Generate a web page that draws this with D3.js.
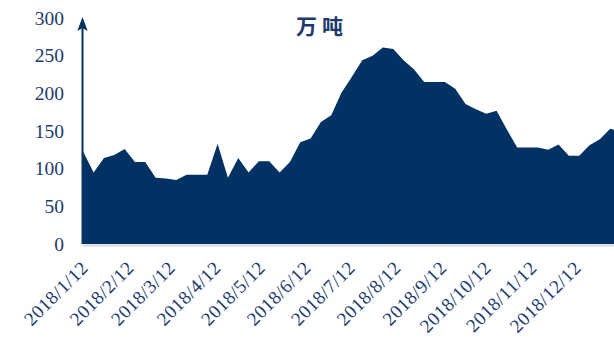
<!DOCTYPE html>
<html>
<head>
<meta charset="utf-8">
<script src="https://cdn.jsdelivr.net/npm/d3@7"></script>
<style>
  html, body { margin: 0; padding: 0; background: #fff; }
  svg { display: block; }
  .serif { font-family: "Liberation Serif", "Times New Roman", Times, serif; }
</style>
</head>
<body>
<svg id="chart" width="614" height="340"></svg>
<script>
// Weekly volume, 万吨
const dates = [
  "2018/01/12","2018/01/19","2018/01/26","2018/02/02","2018/02/09","2018/02/16","2018/02/23",
  "2018/03/02","2018/03/09","2018/03/16","2018/03/23","2018/03/30","2018/04/06","2018/04/13",
  "2018/04/20","2018/04/27","2018/05/04","2018/05/11","2018/05/18","2018/05/25","2018/06/01",
  "2018/06/08","2018/06/15","2018/06/22","2018/06/29","2018/07/06","2018/07/13","2018/07/20",
  "2018/07/27","2018/08/03","2018/08/10","2018/08/17","2018/08/24","2018/08/31","2018/09/07",
  "2018/09/14","2018/09/21","2018/09/28","2018/10/05","2018/10/12","2018/10/19","2018/10/26",
  "2018/11/02","2018/11/09","2018/11/16","2018/11/23","2018/11/30","2018/12/07","2018/12/14",
  "2018/12/21","2018/12/28","2019/01/04","2019/01/11"
];
const values = [
  122, 95, 114, 118, 126, 109, 109,
  88, 87, 85, 92, 92, 92, 133,
  88, 114, 95, 110, 110, 95, 109,
  135, 140, 162, 171, 201, 222, 244,
  250, 261, 259, 244, 232, 215, 215,
  215, 206, 186, 179, 173, 177, 152,
  128, 128, 128, 125, 132, 117, 117,
  131, 139, 153, 149
];
const tickDates = [
  "2018/01/12","2018/02/12","2018/03/12","2018/04/12","2018/05/12","2018/06/12",
  "2018/07/12","2018/08/12","2018/09/12","2018/10/12","2018/11/12","2018/12/12"
];
const tickLabels = [
  "2018/1/12","2018/2/12","2018/3/12","2018/4/12","2018/5/12","2018/6/12",
  "2018/7/12","2018/8/12","2018/9/12","2018/10/12","2018/11/12","2018/12/12"
];
const yTicks = [0, 50, 100, 150, 200, 250, 300];
const unitLabel = "万吨";

const parse = d3.utcParse("%Y/%m/%d");
const data = dates.map((d, i) => ({ date: parse(d), value: values[i] }));

const svg = d3.select("#chart");
const navy = "#023263";
const textColor = "#1b3a6d";

const plotLeft = 82.5, plotRight = 614, plotTop = 18, plotBottom = 244;

const x = d3.scaleUtc()
  .domain([parse("2018/01/12"), parse("2019/01/07")])
  .range([83.3, 614.6]);
const y = d3.scaleLinear().domain([0, 300]).range([plotBottom, plotTop]);

svg.append("defs").append("clipPath").attr("id", "plot")
  .append("rect").attr("x", plotLeft).attr("y", 0)
  .attr("width", plotRight - plotLeft).attr("height", plotBottom + 1);

// light baseline under the area
svg.append("line")
  .attr("x1", plotLeft).attr("x2", plotRight)
  .attr("y1", plotBottom + 1.5).attr("y2", plotBottom + 1.5)
  .attr("stroke", "#d9d9d9").attr("stroke-width", 2);

// area
const area = d3.area()
  .x(d => x(d.date))
  .y0(y(0))
  .y1(d => y(d.value));

svg.append("g").attr("clip-path", "url(#plot)")
  .append("path")
  .datum([{ date: x.invert(plotLeft), value: data[0].value }, ...data])
  .attr("fill", navy)
  .attr("d", area);

// y axis with arrow head
svg.append("line")
  .attr("x1", plotLeft).attr("x2", plotLeft)
  .attr("y1", plotBottom).attr("y2", 26)
  .attr("stroke", navy).attr("stroke-width", 2);
svg.append("path")
  .attr("d", `M${plotLeft},17 L${plotLeft + 5.2},31 L${plotLeft},28 L${plotLeft - 5.2},31 Z`)
  .attr("fill", navy);

// y tick labels
svg.append("g")
  .selectAll("text")
  .data(yTicks)
  .join("text")
  .attr("class", "serif")
  .attr("x", 64)
  .attr("y", d => y(d))
  .attr("dy", "0.35em")
  .attr("text-anchor", "end")
  .attr("font-size", 19.5)
  .attr("fill", textColor)
  .text(d => d);

// x tick labels (rotated)
svg.append("g")
  .selectAll("text")
  .data(tickDates)
  .join("text")
  .attr("class", "serif")
  .attr("transform", d => `translate(${x(parse(d)) + 6},269) rotate(-45)`)
  .attr("text-anchor", "end")
  .attr("font-size", 19)
  .attr("letter-spacing", 0.5)
  .attr("fill", textColor)
  .text((d, i) => tickLabels[i]);

// unit title
svg.append("text")
  .attr("x", 322)
  .attr("y", 34)
  .attr("text-anchor", "middle")
  .attr("font-family", "'Noto Sans CJK SC', sans-serif")
  .attr("font-weight", "bold")
  .attr("font-size", 21)
  .attr("letter-spacing", 5)
  .attr("fill", textColor)
  .text(unitLabel);
</script>
</body>
</html>
